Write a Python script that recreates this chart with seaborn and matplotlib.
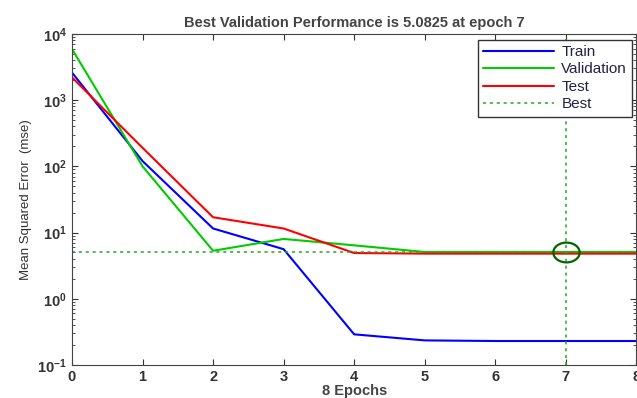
import pandas as pd
import matplotlib.pyplot as plt
import seaborn as sns
from matplotlib.lines import Line2D
from matplotlib.path import Path
from matplotlib.transforms import Affine2D

# ------------------------------
# Data
# ------------------------------
epochs = [0, 1, 2, 3, 4, 5, 6, 7, 8]
train = [2600, 120, 11.5, 5.6, 0.29, 0.235, 0.23, 0.23, 0.23]
validation = [5900, 100, 5.3, 8.0, 6.4, 5.0825, 5.0825, 5.0825, 5.0825]
test = [2200, 190, 17.0, 11.5, 4.9, 4.8, 4.8, 4.8, 4.8]
best_epoch = 7
best_value = 5.0825

df = pd.DataFrame({
    "epoch": epochs * 3,
    "mse": train + validation + test,
    "set": ["Train"] * len(epochs) + ["Validation"] * len(epochs) + ["Test"] * len(epochs),
})

# ------------------------------
# Plot
# ------------------------------
sns.set_style("ticks")
plt.rcParams["font.family"] = ["Liberation Sans", "DejaVu Sans"]

fig = plt.figure(figsize=(6.37, 3.98), dpi=100)
ax = fig.add_axes([0.113, 0.083, 0.886, 0.832])

palette = {"Train": "#0000ff", "Validation": "#00cc00", "Test": "#ff0000"}
sns.lineplot(data=df, x="epoch", y="mse", hue="set", palette=palette,
             linewidth=1.5, ax=ax, legend=False)

ax.axhline(best_value, color="#22aa22", linestyle=(0, (2, 2.5)), linewidth=1.1)
ax.axvline(best_epoch, color="#22aa22", linestyle=(0, (2, 2.5)), linewidth=1.1)

# wide open ellipse around the best point
ellipse = Path.unit_circle().transformed(Affine2D().scale(1.0, 0.75))
ax.plot([best_epoch], [best_value], marker=ellipse, markersize=19, markerfacecolor="none",
        markeredgecolor="#006600", markeredgewidth=1.6)

ax.set_yscale("log")
ax.set_xlim(0, 8)
ax.set_ylim(0.1, 10000)
ax.set_xticks(range(9))
ax.tick_params(which="both", direction="in", top=True, right=True, labelsize=10.5,
               colors="#333333")
ax.tick_params(which="major", length=4)
ax.tick_params(which="minor", length=2)
for lab in ax.get_xticklabels() + ax.get_yticklabels():
    lab.set_fontweight("bold")
for s in ax.spines.values():
    s.set_color("#444444")

ax.set_title("Best Validation Performance is 5.0825 at epoch 7", fontsize=10.5,
             fontweight="bold", color="#444444", pad=5)
ax.set_xlabel("8 Epochs", fontsize=10.5, fontweight="bold", color="#444444", labelpad=0)
ax.set_ylabel("Mean Squared Error  (mse)", fontsize=9.5, color="#333333")

handles = [
    Line2D([], [], color="#0000ff", linewidth=1.5),
    Line2D([], [], color="#00cc00", linewidth=1.5),
    Line2D([], [], color="#ff0000", linewidth=1.5),
    Line2D([], [], color="#22aa22", linestyle=(0, (2, 2.5)), linewidth=1.1),
]
leg = ax.legend(handles, ["Train", "Validation", "Test", "Best"], loc="upper right",
                bbox_to_anchor=(0.993, 0.982), borderaxespad=0, fontsize=11, frameon=True,
                fancybox=False, edgecolor="#333333", framealpha=1, handlelength=4.6,
                borderpad=0.35, labelspacing=0.22, handletextpad=0.5)
leg.get_frame().set_linewidth(1.0)
for t in leg.get_texts():
    t.set_color("#222244")

plt.savefig("out.png", dpi=100)
plt.close()
